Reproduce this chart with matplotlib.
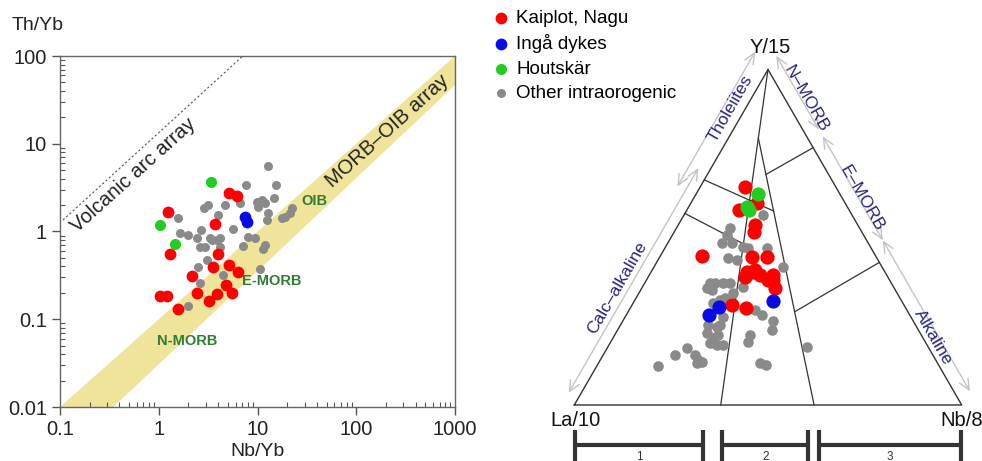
import matplotlib
matplotlib.use('Agg')
import matplotlib.pyplot as plt
import numpy as np

plt.rcParams['font.family'] = ['Liberation Sans', 'DejaVu Sans']

# ---------------- Th/Yb vs Nb/Yb (left panel) ----------------
kaiplot_nbyb = [1.25, 1.29, 1.02, 1.2, 1.58, 2.16, 2.43, 3.24, 3.87, 3.58, 3.96, 3.72,
                5.12, 6.17, 5.12, 6.42, 4.78, 5.5]
kaiplot_thyb = [1.65, 0.55, 0.185, 0.185, 0.132, 0.31, 0.2, 0.16, 0.196, 0.395, 0.55, 1.23,
                2.76, 2.53, 0.41, 0.35, 0.244, 0.2]
inga_nbyb = [7.5, 7.92]
inga_thyb = [1.47, 1.29]
houtskar_nbyb = [3.39, 1.03, 1.46]
houtskar_thyb = [3.69, 1.18, 0.72]
other_nbyb = [12.9, 7.65, 15.3, 9.8, 11.0, 10.2, 11.9, 14.8, 3.18, 2.87, 4.69, 4.01, 6.65,
              1.58, 12.9, 12.4, 22.5, 21.3, 19.0, 17.6, 5.69, 1.64, 1.99, 2.68, 2.42, 3.3,
              3.44, 3.92, 2.62, 2.94, 4.17, 8.07, 9.44, 7.18, 11.5, 11.9, 3.05, 2.51, 4.45,
              10.6, 2.62, 1.99, 4.17]
other_thyb = [5.6, 3.39, 3.39, 2.19, 2.29, 1.92, 2.1, 2.39, 2.0, 1.84, 2.0, 1.54, 2.1,
              1.41, 1.61, 1.35, 1.84, 1.61, 1.47, 1.41, 1.06, 0.97, 0.91, 1.04, 0.84, 0.84,
              0.80, 0.81, 0.67, 0.67, 0.84, 0.86, 0.84, 0.68, 0.63, 0.71, 0.47, 0.39, 0.32,
              0.37, 0.26, 0.14, 0.67]

# MORB-OIB array and volcanic arc array (reference lines of the diagram)
band_upper_x = [0.1, 1000]
band_upper_y = [0.01, 100]
band_lower_x = [0.347, 1000]
band_lower_y = [0.01, 46.7]
arc_x = [0.107, 7.1]
arc_y = [1.35, 100]

# ---------------- La/10 - Y/15 - Nb/8 (right panel), percent ----------------
kaiplot_la = [23.5, 22.9, 28.4, 26.5, 27.8, 44.8, 32.1, 28.1, 35.6, 33.2, 32.7, 29.4, 30.8,
              36.8, 31.3, 44.5, 41.4, 33.9, 30.0]
kaiplot_y = [64.9, 60.1, 58.1, 53.7, 51.7, 44.4, 44.2, 44.2, 39.7, 40.2, 38.7, 38.7, 34.8,
             38.2, 37.3, 29.8, 28.8, 39.7, 37.3]
kaiplot_nb = [11.6, 17.0, 13.5, 19.8, 20.5, 10.8, 23.7, 27.7, 24.7, 26.6, 28.6, 31.9, 34.4,
              25.0, 31.4, 25.7, 29.8, 26.3, 32.7]
inga_la = [48.0, 51.8, 33.2]
inga_y = [29.1, 26.8, 31.1]
inga_nb = [22.9, 21.4, 35.7]
houtskar_la = [21.1, 26.0, 25.8]
houtskar_y = [62.8, 58.9, 58.1]
houtskar_nb = [16.1, 15.1, 16.1]
other_la = [23.1, 33.5, 35.3, 37.9, 35.3, 38.4, 36.5, 31.7, 27.0, 25.4, 46.8, 45.5, 43.4,
            41.6, 48.4, 47.4, 42.3, 38.8, 46.7, 49.0, 39.2, 38.2, 36.1, 37.9, 53.5, 51.6,
            50.5, 55.1, 54.2, 52.4, 55.8, 54.3, 52.6, 62.5, 66.6, 61.4, 61.3, 60.7, 62.2,
            72.5, 44.2, 45.7, 31.3, 45.8, 44.6, 45.2, 32.8, 48.4]
other_y = [56.6, 52.7, 50.7, 48.2, 48.2, 43.7, 43.2, 46.7, 46.7, 41.2, 36.3, 36.5, 36.3,
           36.5, 34.8, 34.3, 33.3, 35.3, 31.3, 30.3, 28.3, 26.8, 25.1, 22.4, 23.8, 23.3,
           23.8, 21.4, 19.9, 20.9, 18.4, 17.9, 17.9, 16.9, 14.9, 14.9, 13.4, 12.9, 12.4,
           11.6, 20.9, 18.9, 17.4, 12.6, 11.9, 31.8, 47.2, 26.3]
other_nb = [20.3, 13.8, 14.0, 13.9, 16.5, 17.9, 20.3, 21.6, 26.3, 33.4, 16.9, 18.1, 20.3,
            22.0, 16.8, 18.3, 24.4, 25.9, 22.0, 20.7, 32.5, 35.0, 38.8, 39.8, 22.7, 25.1,
            25.7, 23.5, 25.9, 26.7, 25.8, 27.8, 29.5, 20.6, 18.5, 23.7, 25.3, 26.4, 25.4,
            15.9, 34.9, 35.5, 51.3, 41.6, 43.5, 23.0, 20.0, 25.3]

# field boundaries (La, Y, Nb) of the Cabanis & Lecolle diagram
field_lines = [((62.2, 0, 37.8), (0, 100, 0)),
               ((12.7, 79.6, 7.7), (38.1, 0, 61.9)),
               ((32.9, 67.1, 0), (19.6, 57.8, 22.6)),
               ((42.9, 57.1, 0), (32.3, 48.0, 19.7)),
               ((16.2, 68.7, 15.1), (0, 76.7, 23.3)),
               ((29.2, 27.8, 43.0), (0, 42.5, 57.5))]

# side arrows: (side, Y start, Y end, label, Y of label, arrow offset px, label offset px)
side_arrows = [('left', 0.02, 0.69, 'Calc\u2013alkaline', 0.318, 11, 22),
               ('left', 0.621, 1.023, 'Tholeiites', 0.864, 20, 13),
               ('right', 1.02, 0.80, 'N\u2013MORB', 0.885, 14, 18),
               ('right', 0.78, 0.47, 'E\u2013MORB', 0.59, 14, 17),
               ('right', 0.47, 0.02, 'Alkaline', 0.19, 14, 9)]

# scale bars under the triangle for fields 1, 2, 3
bar_names = ['1', '2', '3']
bar_start = [0.002, 0.382, 0.632]
bar_end = [0.333, 0.604, 0.997]

red = '#ff0000'
blue = '#0a0ae6'
green = '#22cc22'
grey = '#8a8a8a'
navy = '#25257d'
dkgreen = '#2e7d32'

W, H = 982, 461
fig = plt.figure(figsize=(W / 100, H / 100), dpi=100)

# ---------- left panel ----------
ax1 = fig.add_axes([60 / W, 54 / H, 395 / W, 351 / H])
ax1.set_xscale('log')
ax1.set_yscale('log')
ax1.set_xlim(0.1, 1000)
ax1.set_ylim(0.01, 100)

bx = band_upper_x + band_lower_x[::-1]
by = band_upper_y + band_lower_y[::-1]
ax1.fill(bx, by, color='#f0e39a', lw=0, zorder=1)
ax1.plot(arc_x, arc_y, ls=(0, (2, 2)), color='#555555', lw=0.8, zorder=2)

h_other = ax1.scatter(other_nbyb, other_thyb, s=42, color=grey, lw=0, zorder=3,
                      label='Other intraorogenic')
h_red = ax1.scatter(kaiplot_nbyb, kaiplot_thyb, s=72, color=red, lw=0, zorder=4,
                    label='Kaiplot, Nagu')
h_blue = ax1.scatter(inga_nbyb, inga_thyb, s=72, color=blue, lw=0, zorder=5,
                     label='Ing\u00e5 dykes')
h_green = ax1.scatter(houtskar_nbyb, houtskar_thyb, s=64, color=green, lw=0, zorder=5,
                      label='Houtsk\u00e4r')

ax1.text(0.55, 4.4, 'Volcanic arc array', rotation=42, rotation_mode='anchor',
         ha='center', va='center', fontsize=14.5, color='#222222')
ax1.text(205, 14, 'MORB\u2013OIB array', rotation=42, rotation_mode='anchor',
         ha='center', va='center', fontsize=14.5, color='#222222')
ax1.text(37.3, 2.23, 'OIB', ha='center', va='center', fontsize=10.5,
         fontweight='bold', color=dkgreen)
ax1.text(13.9, 0.275, 'E-MORB', ha='center', va='center', fontsize=10.5,
         fontweight='bold', color=dkgreen)
ax1.text(1.96, 0.057, 'N-MORB', ha='center', va='center', fontsize=10.5,
         fontweight='bold', color=dkgreen)

ax1.set_xticks([0.1, 1, 10, 100, 1000])
ax1.set_xticklabels(['0.1', '1', '10', '100', '1000'])
ax1.set_yticks([0.01, 0.1, 1, 10, 100])
ax1.set_yticklabels(['0.01', '0.1', '1', '10', '100'])
ax1.tick_params(which='major', direction='out', length=6, width=1, labelsize=14.5,
                pad=3.5, color='#555555', labelcolor='#222222')
ax1.tick_params(which='minor', direction='in', length=3.5, width=0.8, color='#555555')
for sp in ax1.spines.values():
    sp.set_color('#666666')
    sp.set_linewidth(1)

fig.text(12 / W, 1 - 25 / H, 'Th/Yb', ha='left', va='center', fontsize=14, color='#222222')
fig.text(258 / W, 1 - 443 / H, 'Nb/Yb', ha='center', va='top', fontsize=14, color='#222222')

# ---------- right panel: ternary ----------
S = 387.4  # pixels per unit side
ax2 = fig.add_axes([480 / W, 0, 502 / W, 1])
ax2.set_xlim((480 - 574.3) / S, (982 - 574.3) / S)
ax2.set_ylim((405 - 461) / S, 405 / S)
ax2.axis('off')

r3 = np.sqrt(3) / 2


def tern(la, y, nb):
    la, y, nb = np.asarray(la, float), np.asarray(y, float), np.asarray(nb, float)
    s = la + y + nb
    return nb / s + 0.5 * y / s, r3 * y / s


# triangle outline
tx, ty = tern([100, 0, 0, 100], [0, 100, 0, 0], [0, 0, 100, 0])
ax2.plot(tx, ty, color='#333333', lw=1.0, zorder=2)
for a, b in field_lines:
    lx, ly = tern([a[0], b[0]], [a[1], b[1]], [a[2], b[2]])
    ax2.plot(lx, ly, color='#333333', lw=0.9, zorder=2)


def edge_point(side, f, off):
    d = off / S
    if side == 'left':
        return f / 2 - d * r3, f * r3 + d * 0.5
    return 1 - f / 2 + d * r3, f * r3 + d * 0.5


for side, f0, f1, lab, fl, aoff, toff in side_arrows:
    p0 = edge_point(side, f0, aoff)
    p1 = edge_point(side, f1, aoff)
    ax2.annotate('', xy=p1, xytext=p0,
                 arrowprops=dict(arrowstyle='<->,head_length=0.55,head_width=0.25',
                                 color='#c4c4c4', lw=1, shrinkA=0, shrinkB=0,
                                 mutation_scale=14), zorder=1)
    tp = edge_point(side, fl, toff)
    ax2.text(tp[0], tp[1], lab, rotation=60 if side == 'left' else -60,
             rotation_mode='anchor', ha='center', va='center', fontsize=12.5,
             color=navy, zorder=3)

gx, gy = tern(other_la, other_y, other_nb)
ax2.scatter(gx, gy, s=58, color=grey, lw=0, zorder=4)
kx, ky = tern(kaiplot_la, kaiplot_y, kaiplot_nb)
ax2.scatter(kx, ky, s=105, color=red, lw=0, zorder=5)
ix, iy = tern(inga_la, inga_y, inga_nb)
ax2.scatter(ix, iy, s=105, color=blue, lw=0, zorder=6)
hx, hy = tern(houtskar_la, houtskar_y, houtskar_nb)
ax2.scatter(hx, hy, s=105, color=green, lw=0, zorder=6)

ax2.text(0.505, 0.923, 'Y/15', ha='center', va='center', fontsize=14.5, color='#111111')
ax2.text(0.004, -0.039, 'La/10', ha='center', va='center', fontsize=14.5, color='#111111')
ax2.text(0.945, -0.039, 'Nb/8', ha='left', va='center', fontsize=14.5, color='#111111')

bar_y = -0.103
for name, x0, x1 in zip(bar_names, bar_start, bar_end):
    ax2.plot([x0, x1], [bar_y, bar_y], color='#333333', lw=3, solid_capstyle='butt')
    for xc in (x0, x1):
        ax2.plot([xc, xc], [-0.0645, -0.2], color='#333333', lw=3, solid_capstyle='butt')
    ax2.text((x0 + x1) / 2, (405 - 459.5) / S, name, ha='center', va='baseline',
             fontsize=8.5, color='#333333')

fig.legend(handles=[h_red, h_blue, h_green, h_other], loc='upper left',
           bbox_to_anchor=(493 / W, 1 - 10 / H), frameon=False, fontsize=13.5,
           handlelength=0.8, handletextpad=0.45, labelspacing=0.38, borderpad=0,
           borderaxespad=0, scatterpoints=1)

fig.savefig('out.png', dpi=100)
